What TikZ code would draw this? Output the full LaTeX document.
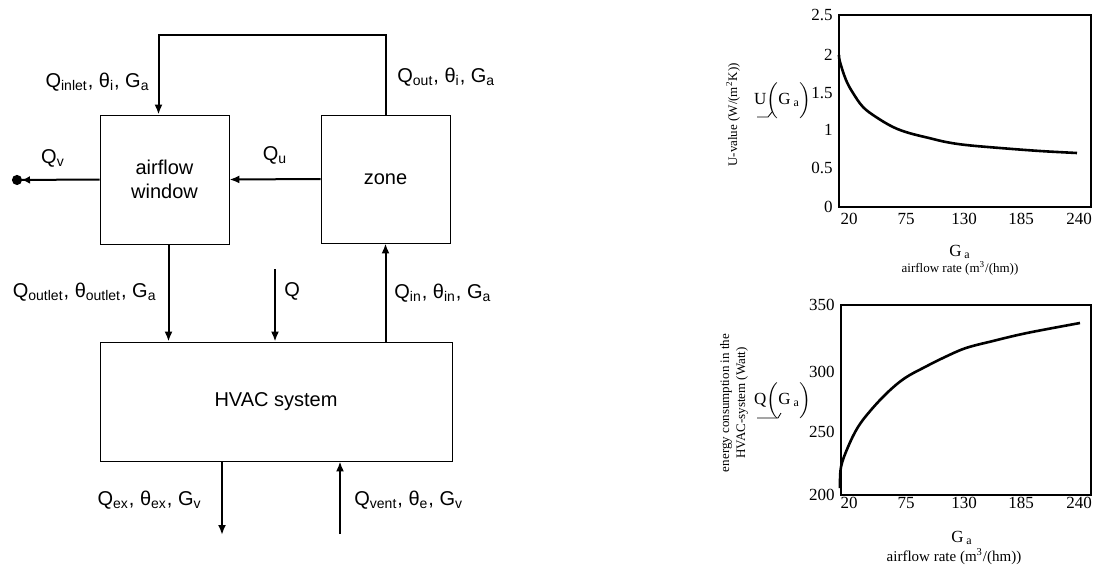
\documentclass[tikz,border=0pt]{standalone}
\usepackage{fontspec}
\setmainfont{Liberation Sans}
\newfontfamily\plotfont{Liberation Serif}
\usetikzlibrary{arrows.meta}
\begin{document}
\begin{tikzpicture}[x=0.5pt,y=-0.5pt,>={Latex[length=5pt,width=4pt]},
  box/.style={draw,thin,inner sep=0pt,align=center,font=\fontsize{10}{12}\selectfont},
  flow/.style={->,line width=1pt},
  lbl/.style={inner sep=0pt,font=\fontsize{10}{12}\selectfont},
  tick/.style={inner sep=0pt,font=\plotfont\fontsize{8.5}{10}\selectfont},
  small/.style={inner sep=0pt,font=\plotfont\fontsize{6.5}{8}\selectfont}]
  \useasboundingbox (0,0) rectangle (1093,568);
  \node[box,minimum width=64.5pt,minimum height=64.5pt] (win) at (164.5,179.5) {airflow\\window};
  \node[box,minimum width=64.5pt,minimum height=64pt] (zone) at (385.5,179) {zone};
  \node[box,minimum width=176pt,minimum height=59.5pt] (hvac) at (276,401.5) {HVAC system};
  \coordinate (top) at (0,35);
  \coordinate (vend) at (12,180);
  \coordinate (qtop) at (275,269);
  \coordinate (exend) at (222,535);
  \coordinate (ventbeg) at (340,534);
  \draw[flow] (zone.north) -- (zone.north |- top) -| ([xshift=-3pt]win.north);
  \draw[flow] (zone.west) -- (win.east);
  \draw[line width=1pt,-{Latex[length=4pt,width=4pt]Circle[length=5pt]}] (win.west) -- (vend);
  \draw[flow] ([xshift=2pt]win.south) -- ([xshift=2pt]win.south |- hvac.north);
  \draw[flow] (qtop) -- (qtop |- hvac.north);
  \draw[flow] (zone.south |- hvac.north) -- (zone.south);
  \draw[flow] (exend |- hvac.south) -- (exend);
  \draw[flow] (ventbeg) -- (ventbeg |- hvac.south);
  \node[lbl,anchor=east] at (150,82) {Q\textsubscript{inlet}, θ\textsubscript{i}, G\textsubscript{a}};
  \node[lbl,anchor=west] at (397,77) {Q\textsubscript{out}, θ\textsubscript{i}, G\textsubscript{a}};
  \node[lbl] at (53,158) {Q\textsubscript{v}};
  \node[lbl] at (275,155) {Q\textsubscript{u}};
  \node[lbl,anchor=east] at (157,292) {Q\textsubscript{outlet}, θ\textsubscript{outlet}, G\textsubscript{a}};
  \node[lbl,anchor=west] at (284,291) {Q};
  \node[lbl,anchor=west] at (394,293) {Q\textsubscript{in}, θ\textsubscript{in}, G\textsubscript{a}};
  \node[lbl,anchor=east] at (202,500) {Q\textsubscript{ex}, θ\textsubscript{ex}, G\textsubscript{v}};
  \node[lbl,anchor=west] at (354,500) {Q\textsubscript{vent}, θ\textsubscript{e}, G\textsubscript{v}};
  \draw[line width=0.9pt] (839,15) rectangle (1091,207);
  \draw[line width=0.9pt] (841,305) rectangle (1091,495);
  \foreach \yy/\tk in {15/2.5,55/2,93/1.5,130/1,168/0.5,207/0}
    \node[tick,anchor=east] at (833,\yy) {\tk};
  \foreach \yy/\tk in {305/350,372/300,432/250,495/200}
    \node[tick,anchor=east] at (835,\yy) {\tk};
  \foreach \xx/\tk in {849/20,906/75,964/130,1021/185,1079/240}{
    \node[tick] at (\xx,219) {\tk};
    \node[tick] at (\xx,503) {\tk};
  }
  \draw[line width=1.3pt] plot[smooth,tension=0.6] coordinates
    {(839,55) (840,62) (846,80) (853,93) (863,107) (876,117) (893,127) (909,133) (929,138) (946,142) (966,145) (1000,148) (1040,151) (1077,153)};
  \draw[line width=1.3pt] plot[smooth,tension=0.6] coordinates
    {(840,488) (841,467) (848,447) (858,427) (871,410) (888,392) (905,378) (925,367) (945,357) (966,348) (993,341) (1027,333) (1080,323)};
  \node[tick] at (960,252) {G\,\textsubscript{a}};
  \node[small] at (960,268) {airflow rate (m\textsuperscript{3}/(hm))};
  \node[tick] at (962,538) {G\,\textsubscript{a}};
  \node[small,font=\plotfont\fontsize{7.5}{9}\selectfont] at (954,557) {airflow rate (m\textsuperscript{3}/(hm))};
  \node[small,rotate=90] at (733,115) {U-value (W/(m\textsuperscript{2}K))};
  \node[small,rotate=90,align=center] at (734,403) {energy consumption in the\\HVAC-system (Watt)};
  \node[tick] (uann) at (783,100) {U$\Bigl($G\,\textsubscript{a}$\Bigr)$};
  \node[tick] (qann) at (783,400) {Q$\Bigl($G\,\textsubscript{a}$\Bigr)$};
  \draw (757,117) -- (768,117) -- (772,112);
  \draw (757,418) -- (778,418) -- (781,413);
\end{tikzpicture}
\end{document}
